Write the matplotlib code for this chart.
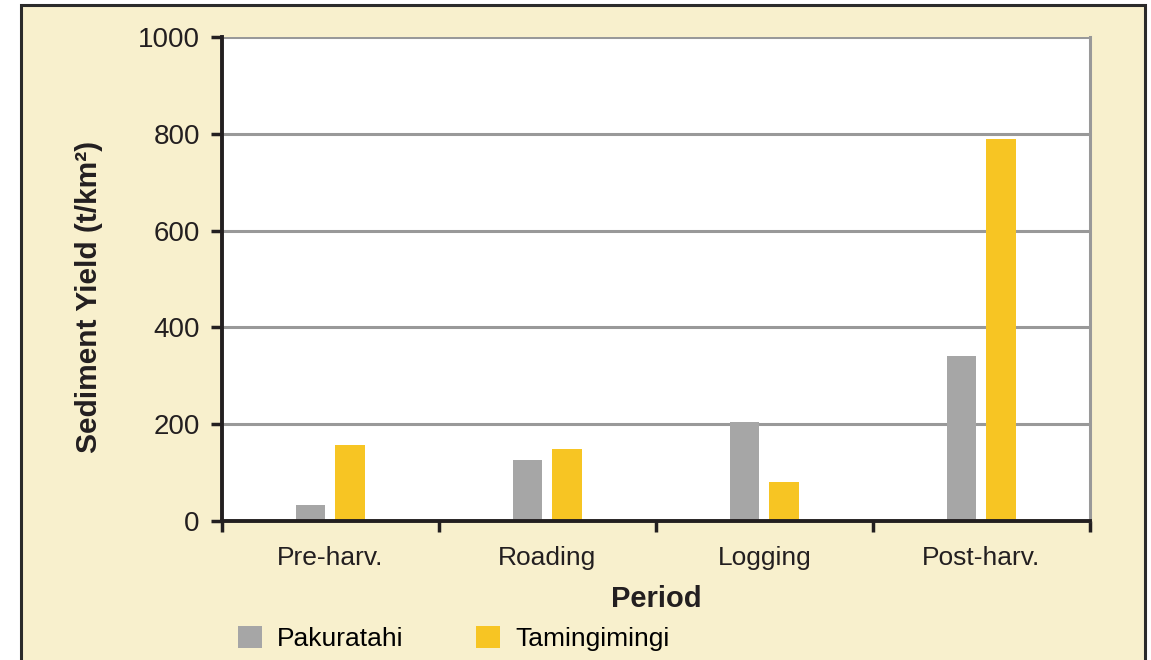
import numpy as np
import matplotlib
matplotlib.use("Agg")
from matplotlib import pyplot as plt
from matplotlib.patches import Rectangle, Patch

plt.rcParams['font.family'] = ['Liberation Sans', 'DejaVu Sans']

periods = ["Pre-harv.", "Roading", "Logging", "Post-harv."]
pakuratahi = [33, 126, 205, 341]
tamingimingi = [157, 149, 81, 789]
series_names = ["Pakuratahi", "Tamingimingi"]
yticks = [0, 200, 400, 600, 800, 1000]

gray = "#a6a6a6"
yellow = "#f7c523"
beige = "#f8f0cd"

fig = plt.figure(figsize=(11.51, 6.6), dpi=100)
fig.patch.set_facecolor("white")

# beige panel with dark frame, bottom edge cut off
panel = Rectangle((21/1151, -0.05), (1145-21)/1151, 1.05 - 5/660,
                  transform=fig.transFigure, facecolor=beige,
                  edgecolor="#2b2b2b", linewidth=2.2, zorder=-10)
fig.patches.append(panel)

ax = fig.add_axes([222/1151, 1-521/660, (1090-222)/1151, (521-37)/660])
ax.set_facecolor("white")

x = np.arange(len(periods))
w = 0.137
ax.bar(x - 0.092, pakuratahi, width=w, color=gray, zorder=3, label=series_names[0])
ax.bar(x + 0.090, tamingimingi, width=w, color=yellow, zorder=3, label=series_names[1])

ax.set_xlim(-0.5, 3.5)
ax.set_ylim(0, 1000)
ax.set_yticks(yticks)
ax.set_yticklabels([str(v) for v in yticks], fontsize=20, color="#231f20")
ax.yaxis.grid(True, color="#999999", linewidth=2.2, zorder=1)
ax.set_axisbelow(True)

# x ticks at group boundaries, labels at group centres
ax.set_xticks(np.arange(-0.5, 4.0, 1.0))
ax.set_xticklabels([])
ax.set_xticks(x, minor=True)
ax.set_xticklabels(periods, minor=True, fontsize=19, color="#231f20")
ax.tick_params(axis="x", which="minor", length=0, pad=18)
ax.tick_params(axis="x", which="major", length=8, width=2.5, color="#231f20", direction="out")
ax.tick_params(axis="y", length=8, width=2.5, color="#231f20", direction="out", pad=8)

for side in ["left", "bottom"]:
    ax.spines[side].set_color("#231f20")
    ax.spines[side].set_linewidth(2.8)
    ax.spines[side].set_zorder(4)
ax.spines["top"].set_visible(False)
ax.spines["right"].set_color("#999999")
ax.spines["right"].set_linewidth(2.2)

ax.set_xlabel("Period", fontsize=21, fontweight="bold", color="#231f20", labelpad=11)
ax.set_ylabel("Sediment Yield (t/km²)", fontsize=21.5, fontweight="bold", color="#231f20")
ax.yaxis.set_label_coords(-0.137, 0.463)

handles = [Patch(facecolor=gray), Patch(facecolor=yellow)]
fig.legend(handles, series_names, loc="lower left", bbox_to_anchor=(214/1151, -15/660),
           ncol=2, frameon=False, fontsize=19, handlelength=0.9, handleheight=0.9,
           handletextpad=0.6, columnspacing=2.73)

fig.savefig("out.png", dpi=100, facecolor=fig.get_facecolor())
